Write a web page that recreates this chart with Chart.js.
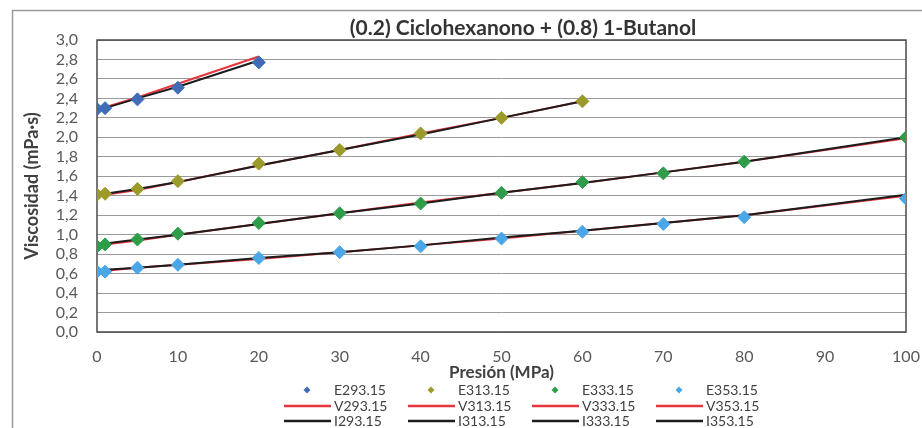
<!DOCTYPE html>
<html lang="es">
<head>
<meta charset="UTF-8">
<title>Viscosidad - Ciclohexanona + 1-Butanol</title>
<script src="https://cdn.jsdelivr.net/npm/chart.js"></script>
<style>
  html, body { margin: 0; padding: 0; background: #fff; }
  canvas { display: block; }
</style>
</head>
<body>
<canvas id="viscChart" width="922" height="428"></canvas>
<script>
// presiones (MPa) de cada isoterma
const pres293 = [0, 1, 5, 10, 20];
const pres313 = [0, 1, 5, 10, 20, 30, 40, 50, 60];
const pres333 = [0, 1, 5, 10, 20, 30, 40, 50, 60, 70, 80, 100];
const pres353 = [0, 1, 5, 10, 20, 30, 40, 50, 60, 70, 80, 100];

// E = experimental
const exp293 = [2.29, 2.30, 2.39, 2.51, 2.77];
const exp313 = [1.41, 1.42, 1.47, 1.55, 1.73, 1.87, 2.04, 2.20, 2.37];
const exp333 = [0.88, 0.90, 0.95, 1.01, 1.12, 1.22, 1.32, 1.43, 1.54, 1.63, 1.75, 2.00];
const exp353 = [0.62, 0.62, 0.66, 0.69, 0.76, 0.82, 0.88, 0.96, 1.03, 1.11, 1.18, 1.37];

// V (rojo)
const v293 = [2.29, 2.31, 2.41, 2.55, 2.83];
const v313 = [1.40, 1.41, 1.46, 1.54, 1.71, 1.87, 2.04, 2.20, 2.37];
const v333 = [0.89, 0.90, 0.94, 1.00, 1.11, 1.22, 1.33, 1.43, 1.53, 1.64, 1.75, 1.99];
const v353 = [0.63, 0.63, 0.66, 0.69, 0.75, 0.82, 0.89, 0.96, 1.04, 1.12, 1.20, 1.40];

// I (negro)
const i293 = [2.29, 2.30, 2.40, 2.52, 2.79];
const i313 = [1.41, 1.42, 1.47, 1.54, 1.71, 1.87, 2.03, 2.20, 2.37];
const i333 = [0.90, 0.91, 0.95, 1.00, 1.11, 1.22, 1.32, 1.43, 1.53, 1.64, 1.75, 2.00];
const i353 = [0.63, 0.64, 0.66, 0.69, 0.76, 0.82, 0.89, 0.97, 1.04, 1.12, 1.20, 1.41];

const temps = ["293.15", "313.15", "333.15", "353.15"];
const expColors = ["#3f6cb4", "#9c9a2c", "#2f9c4a", "#4aa6e6"];
const redLine = "#e8343c";
const blackLine = "#1c1c1c";

const presList = [pres293, pres313, pres333, pres353];
const expList = [exp293, exp313, exp333, exp353];
const vList = [v293, v313, v333, v353];
const iList = [i293, i313, i333, i353];

const toXY = (xs, ys) => xs.map((x, k) => ({ x: x, y: ys[k] }));

const datasets = [];
temps.forEach((t, k) => {
    datasets.push({
        label: "E" + t,
        data: toXY(presList[k], expList[k]),
        showLine: false,
        pointStyle: "rectRot",
        pointRadius: 6.5,
        pointBackgroundColor: expColors[k],
        pointBorderColor: expColors[k],
        pointBorderWidth: 1,
        order: 0
    });
});
temps.forEach((t, k) => {
    datasets.push({
        label: "V" + t,
        data: toXY(presList[k], vList[k]),
        showLine: true,
        borderColor: redLine,
        borderWidth: 2,
        pointRadius: 0,
        order: 2
    });
});
temps.forEach((t, k) => {
    datasets.push({
        label: "I" + t,
        data: toXY(presList[k], iList[k]),
        showLine: true,
        borderColor: blackLine,
        borderWidth: 2,
        pointRadius: 0,
        order: 1
    });
});

// marco exterior, marco del area y titulo
const framePlugin = {
    id: "framePlugin",
    beforeDraw(chart) {
        const ctx = chart.ctx;
        ctx.save();
        ctx.strokeStyle = "#9a9a9a";
        ctx.lineWidth = 1.5;
        ctx.strokeRect(12.5, 10.5, 940, 440);
        ctx.fillStyle = "#333333";
        ctx.font = "bold 21px Lato";
        ctx.textAlign = "center";
        ctx.textBaseline = "middle";
        ctx.fillText("(0.2) Ciclohexanono + (0.8) 1-Butanol", 523, 28);
        ctx.restore();
    },
    beforeDatasetsDraw(chart) {
        const a = chart.chartArea;
        const ctx = chart.ctx;
        ctx.save();
        ctx.strokeStyle = "#4a4a4a";
        ctx.lineWidth = 1.5;
        ctx.strokeRect(a.left, a.top, a.right - a.left, a.bottom - a.top);
        ctx.restore();
    }
};

// leyenda de 3 filas x 4 columnas
const legendPlugin = {
    id: "legendPlugin",
    afterDraw(chart) {
        const ctx = chart.ctx;
        const rowsY = [390, 406, 421];
        ctx.save();
        ctx.font = "14px Lato";
        ctx.textBaseline = "middle";
        ctx.textAlign = "left";
        for (let r = 0; r < 3; r++) {
            for (let c = 0; c < 4; c++) {
                const ds = chart.data.datasets[r * 4 + c];
                const y = rowsY[r];
                const x0 = 284 + c * 124;
                if (r === 0) {
                    const mx = 307 + c * 124, s = 3.5;
                    ctx.fillStyle = ds.pointBackgroundColor;
                    ctx.beginPath();
                    ctx.moveTo(mx, y - s);
                    ctx.lineTo(mx + s, y);
                    ctx.lineTo(mx, y + s);
                    ctx.lineTo(mx - s, y);
                    ctx.closePath();
                    ctx.fill();
                } else {
                    ctx.strokeStyle = ds.borderColor;
                    ctx.lineWidth = 2.5;
                    ctx.beginPath();
                    ctx.moveTo(x0, y);
                    ctx.lineTo(x0 + 47, y);
                    ctx.stroke();
                }
                ctx.fillStyle = "#404040";
                ctx.fillText(ds.label, 334 + c * 124, y);
            }
        }
        ctx.restore();
    }
};

const ctx = document.getElementById("viscChart").getContext("2d");
const viscChart = new Chart(ctx, {
    type: "scatter",
    data: { datasets: datasets },
    plugins: [framePlugin, legendPlugin],
    options: {
        responsive: false,
        animation: false,
        layout: { padding: { left: 14, top: 40, right: 16, bottom: 45 } },
        plugins: {
            legend: { display: false },
            title: { display: false },
            tooltip: { enabled: false }
        },
        scales: {
            x: {
                type: "linear",
                min: 0,
                max: 100,
                ticks: { stepSize: 10, autoSkip: false, padding: 15, color: "#595959", font: { family: "Lato", size: 16 } },
                grid: { display: false, drawTicks: false },
                border: { display: false },
                title: {
                    display: true,
                    text: "Presión (MPa)",
                    color: "#404040",
                    font: { family: "Lato", size: 17, weight: "bold" },
                    padding: { top: 0, bottom: 0 }
                },
                afterFit(scale) {
                    scale.height = 51;
                    scale.paddingRight = 0;
                    scale.paddingLeft = 0;
                }
            },
            y: {
                min: 0,
                max: 3,
                ticks: {
                    stepSize: 0.2,
                    autoSkip: false,
                    padding: 19,
                    color: "#595959",
                    font: { family: "Lato", size: 16 },
                    callback: v => v.toFixed(1).replace(".", ",")
                },
                grid: { color: "#9a9a9a", lineWidth: 1, drawTicks: false },
                border: { display: false },
                title: {
                    display: true,
                    text: "Viscosidad (mPa·s)",
                    color: "#404040",
                    font: { family: "Lato", size: 18, weight: "bold" },
                    padding: { top: 7, bottom: 0 }
                },
                afterFit(scale) {
                    scale.width = 83;
                    scale.paddingTop = 0;
                    scale.paddingBottom = 0;
                }
            }
        }
    }
});
</script>
</body>
</html>
